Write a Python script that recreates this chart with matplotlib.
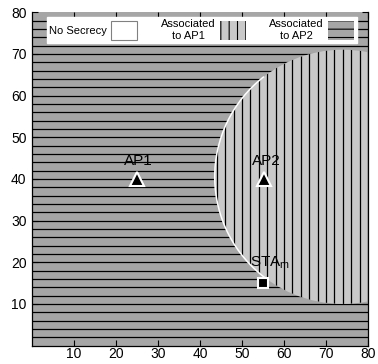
import numpy as np
import matplotlib
matplotlib.use('Agg')
import matplotlib.pyplot as plt
from matplotlib.patches import Circle, Patch, Arc

plt.rcParams['font.family'] = ['Liberation Sans', 'DejaVu Sans']
plt.rcParams['mathtext.fontset'] = 'custom'
plt.rcParams['mathtext.rm'] = 'Liberation Sans'
plt.rcParams['mathtext.it'] = 'Liberation Sans:italic'
plt.rcParams['hatch.color'] = 'black'
plt.rcParams['hatch.linewidth'] = 0.8

# ---- data ----
ap_names = ['AP1', 'AP2']
ap_x = [25, 55.3]
ap_y = [40, 40]
sta_label = r'STA$_\mathrm{m}$'
sta_x = [55]
sta_y = [15]
region_center = (74, 40.5)
region_radius = 30.5
area_size = 80
stripe_step = 2
x_ticks = [10, 20, 30, 40, 50, 60, 70, 80]
y_ticks = [10, 20, 30, 40, 50, 60, 70, 80]
legend_labels = ['No Secrecy', 'Associated\nto AP1', 'Associated\nto AP2']

outer_col = '#a6a6a6'
inner_col = '#c9c9c9'

fig = plt.figure(figsize=(3.78, 3.64), dpi=100)
ax = fig.add_axes([32 / 378, 1 - 345.6 / 364, 336 / 378, 333.4 / 364])
ax.set_xlim(0, area_size)
ax.set_ylim(0, area_size)
ax.set_facecolor(outer_col)

# horizontal stripes (AP1 region)
ys = np.arange(stripe_step, area_size, stripe_step)
ax.hlines(ys, 0, area_size, colors='black', lw=0.9, zorder=1)

# AP2 region
circ = Circle(region_center, region_radius, facecolor=inner_col,
              edgecolor='none', zorder=2)
ax.add_patch(circ)
xs = np.arange(stripe_step, area_size + stripe_step, stripe_step)
vl = ax.vlines(xs, 0, area_size, colors='black', lw=0.9, zorder=3)
vl.set_clip_path(circ)

arc = Arc(region_center, 2 * region_radius, 2 * region_radius,
          theta1=128, theta2=233, color='white', lw=1.1, zorder=4)
ax.add_patch(arc)

# markers
ax.plot(ap_x, ap_y, linestyle='none', marker='^', ms=10, mfc='black',
        mec='white', mew=1.5, zorder=6)
for n, x, y in zip(ap_names, ap_x, ap_y):
    ax.text(x + 0.4, y + 3.3, n, ha='center', va='baseline', fontsize=11,
            zorder=6)
ax.plot(sta_x, sta_y, linestyle='none', marker='s', ms=7.5, mfc='black',
        mec='white', mew=1.5, zorder=6)
ax.text(sta_x[0] - 3, sta_y[0] + 3.9, sta_label, ha='left', va='baseline',
        fontsize=11, zorder=6)

# legend
handles = [Patch(facecolor='white', edgecolor='#808080', lw=0.8),
           Patch(facecolor=inner_col, hatch='||', lw=0),
           Patch(facecolor=outer_col, hatch='--', lw=0)]
leg = ax.legend(handles, legend_labels, ncol=3, markerfirst=False,
                loc='upper center', bbox_to_anchor=(0.505, 0.985),
                fontsize=8, frameon=True, fancybox=False, edgecolor='white',
                facecolor='white', framealpha=1, borderpad=0.2,
                handlelength=2.35, handleheight=2.25, handletextpad=0.4,
                columnspacing=2.1, borderaxespad=0)
leg.set_zorder(7)
for t in leg.get_texts():
    t.set_multialignment('center')

ax.set_xticks(x_ticks)
ax.set_yticks(y_ticks)
ax.tick_params(direction='in', length=4, top=True, right=True, labelsize=10,
               width=0.8, color='black')
ax.tick_params(axis='x', pad=1.2)
ax.tick_params(axis='y', pad=4)
ax.spines['top'].set_visible(False)
for s in ['left', 'bottom', 'right']:
    ax.spines[s].set_linewidth(0.9)

fig.savefig('out.png', dpi=100)
